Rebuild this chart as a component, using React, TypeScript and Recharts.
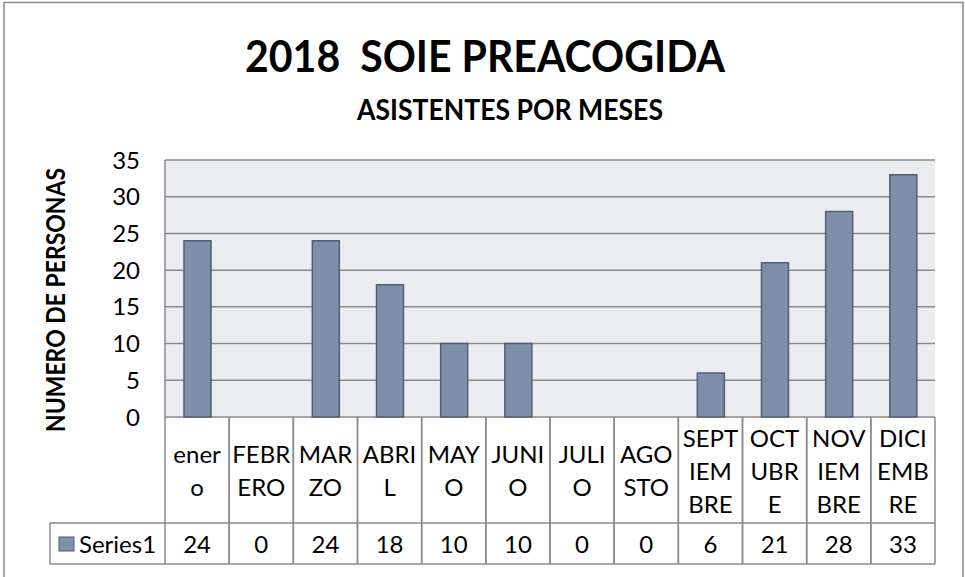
import { Bar, BarChart, CartesianGrid, XAxis, YAxis } from "recharts";

const months = [
  "enero", "FEBRERO", "MARZO", "ABRIL", "MAYO", "JUNIO",
  "JULIO", "AGOSTO", "SEPTIEMBRE", "OCTUBRE", "NOVIEMBRE", "DICIEMBRE",
];
// how Excel wrapped each month name inside its table cell
const monthLines = [
  ["ener", "o"], ["FEBR", "ERO"], ["MAR", "ZO"], ["ABRI", "L"], ["MAY", "O"], ["JUNI", "O"],
  ["JULI", "O"], ["AGO", "STO"], ["SEPT", "IEM", "BRE"], ["OCT", "UBR", "E"], ["NOV", "IEM", "BRE"], ["DICI", "EMB", "RE"],
];
const attendees = [24, 0, 24, 18, 10, 10, 0, 0, 6, 21, 28, 33];
const yTicks = [0, 5, 10, 15, 20, 25, 30, 35];
const seriesName = "Series1";

const data = months.map((month, i) => ({ month, value: attendees[i] }));

const FONT = "Lato, 'Open Sans', sans-serif";
const LINE = "#8a8a8a";
const BAR_FILL = "#7f8fa9";
const BAR_STROKE = "#4f5e7b";

// data table under the plot, one column per category tick
function TableTick(props: any) {
  const { x, y, payload, index } = props;
  const half = payload?.offset || 32.1;
  const lines = monthLines[index] ?? [String(payload.value)];
  const left = x - half;
  const right = x + half;
  const rowTop = y + 106;
  const rowBottom = y + 147;
  const mid = y + 53;
  const ln = { stroke: LINE, strokeWidth: 1.5 };
  return (
    <g>
      <line x1={left} y1={y} x2={left} y2={rowBottom} {...ln} />
      <line x1={right} y1={y} x2={right} y2={rowBottom} {...ln} />
      <line x1={left} y1={rowTop} x2={right} y2={rowTop} {...ln} />
      <line x1={left} y1={rowBottom} x2={right} y2={rowBottom} {...ln} />
      {lines.map((t: string, k: number) => (
        <text
          key={k}
          x={x}
          y={mid + (k - (lines.length - 1) / 2) * 33}
          textAnchor="middle"
          dominantBaseline="central"
          fontFamily={FONT}
          fontSize={24}
          fill="#000"
        >
          {t}
        </text>
      ))}
      <text
        x={x}
        y={(rowTop + rowBottom) / 2}
        textAnchor="middle"
        dominantBaseline="central"
        fontFamily={FONT}
        fontSize={24}
        fill="#000"
      >
        {attendees[index]}
      </text>
      {index === 0 && (
        <g>
          <line x1={left - 115} y1={rowTop} x2={left} y2={rowTop} {...ln} />
          <line x1={left - 115} y1={rowBottom} x2={left} y2={rowBottom} {...ln} />
          <line x1={left - 115} y1={rowTop} x2={left - 115} y2={rowBottom} {...ln} />
          <rect x={left - 106} y={rowTop + 14} width={15} height={14} fill={BAR_FILL} stroke={BAR_STROKE} strokeWidth={1} />
          <text
            x={left - 86}
            y={(rowTop + rowBottom) / 2}
            dominantBaseline="central"
            fontFamily={FONT}
            fontSize={24}
            fill="#000"
          >
            {seriesName}
          </text>
        </g>
      )}
    </g>
  );
}

export default function App() {
  return (
    <div style={{ position: "absolute", left: 0, top: 0, width: 965, height: 577, background: "#fff", overflow: "hidden" }}>
      <BarChart
        width={965}
        height={577}
        data={data}
        margin={{ top: 160, right: 30, bottom: 13, left: 85 }}
      >
        <CartesianGrid
          vertical={false}
          stroke={LINE}
          strokeWidth={1.5}
          fill="#ebecf0"
          fillOpacity={1}
        />
        <XAxis
          dataKey="month"
          type="category"
          height={147}
          interval={0}
          axisLine={false}
          tickLine={false}
          tickSize={0}
          tickMargin={0}
          tick={<TableTick />}
        />
        <YAxis
          width={80}
          domain={[0, 35]}
          ticks={yTicks}
          interval={0}
          axisLine={{ stroke: LINE, strokeWidth: 1.5 }}
          tickLine={false}
          tickSize={0}
          tickMargin={25}
          tick={{ fill: "#000", fontSize: 24, fontFamily: FONT }}
        />
        <Bar
          dataKey="value"
          name={seriesName}
          barSize={27}
          fill={BAR_FILL}
          stroke={BAR_STROKE}
          strokeWidth={1.5}
          isAnimationActive={false}
        />
      </BarChart>
      <svg
        width={965}
        height={577}
        style={{ position: "absolute", left: 0, top: 0, pointerEvents: "none" }}
      >
        <rect x={4} y={2.5} width={959} height={620} fill="none" stroke={LINE} strokeWidth={1.5} />
        <text
          x={485}
          y={72}
          textAnchor="middle"
          fontFamily={FONT}
          fontWeight="bold"
          fontSize={44}
          textLength={480}
          lengthAdjust="spacingAndGlyphs"
          style={{ whiteSpace: "pre" }}
          fill="#000"
        >
          {"2018  SOIE PREACOGIDA"}
        </text>
        <text
          x={510}
          y={120}
          textAnchor="middle"
          fontFamily={FONT}
          fontWeight="bold"
          fontSize={29}
          textLength={306}
          lengthAdjust="spacingAndGlyphs"
          fill="#000"
        >
          ASISTENTES POR MESES
        </text>
        <text
          x={65}
          y={300}
          transform="rotate(-90 65 300)"
          textAnchor="middle"
          fontFamily={FONT}
          fontWeight="bold"
          fontSize={26}
          textLength={264}
          lengthAdjust="spacingAndGlyphs"
          fill="#000"
        >
          NUMERO DE PERSONAS
        </text>
      </svg>
    </div>
  );
}
